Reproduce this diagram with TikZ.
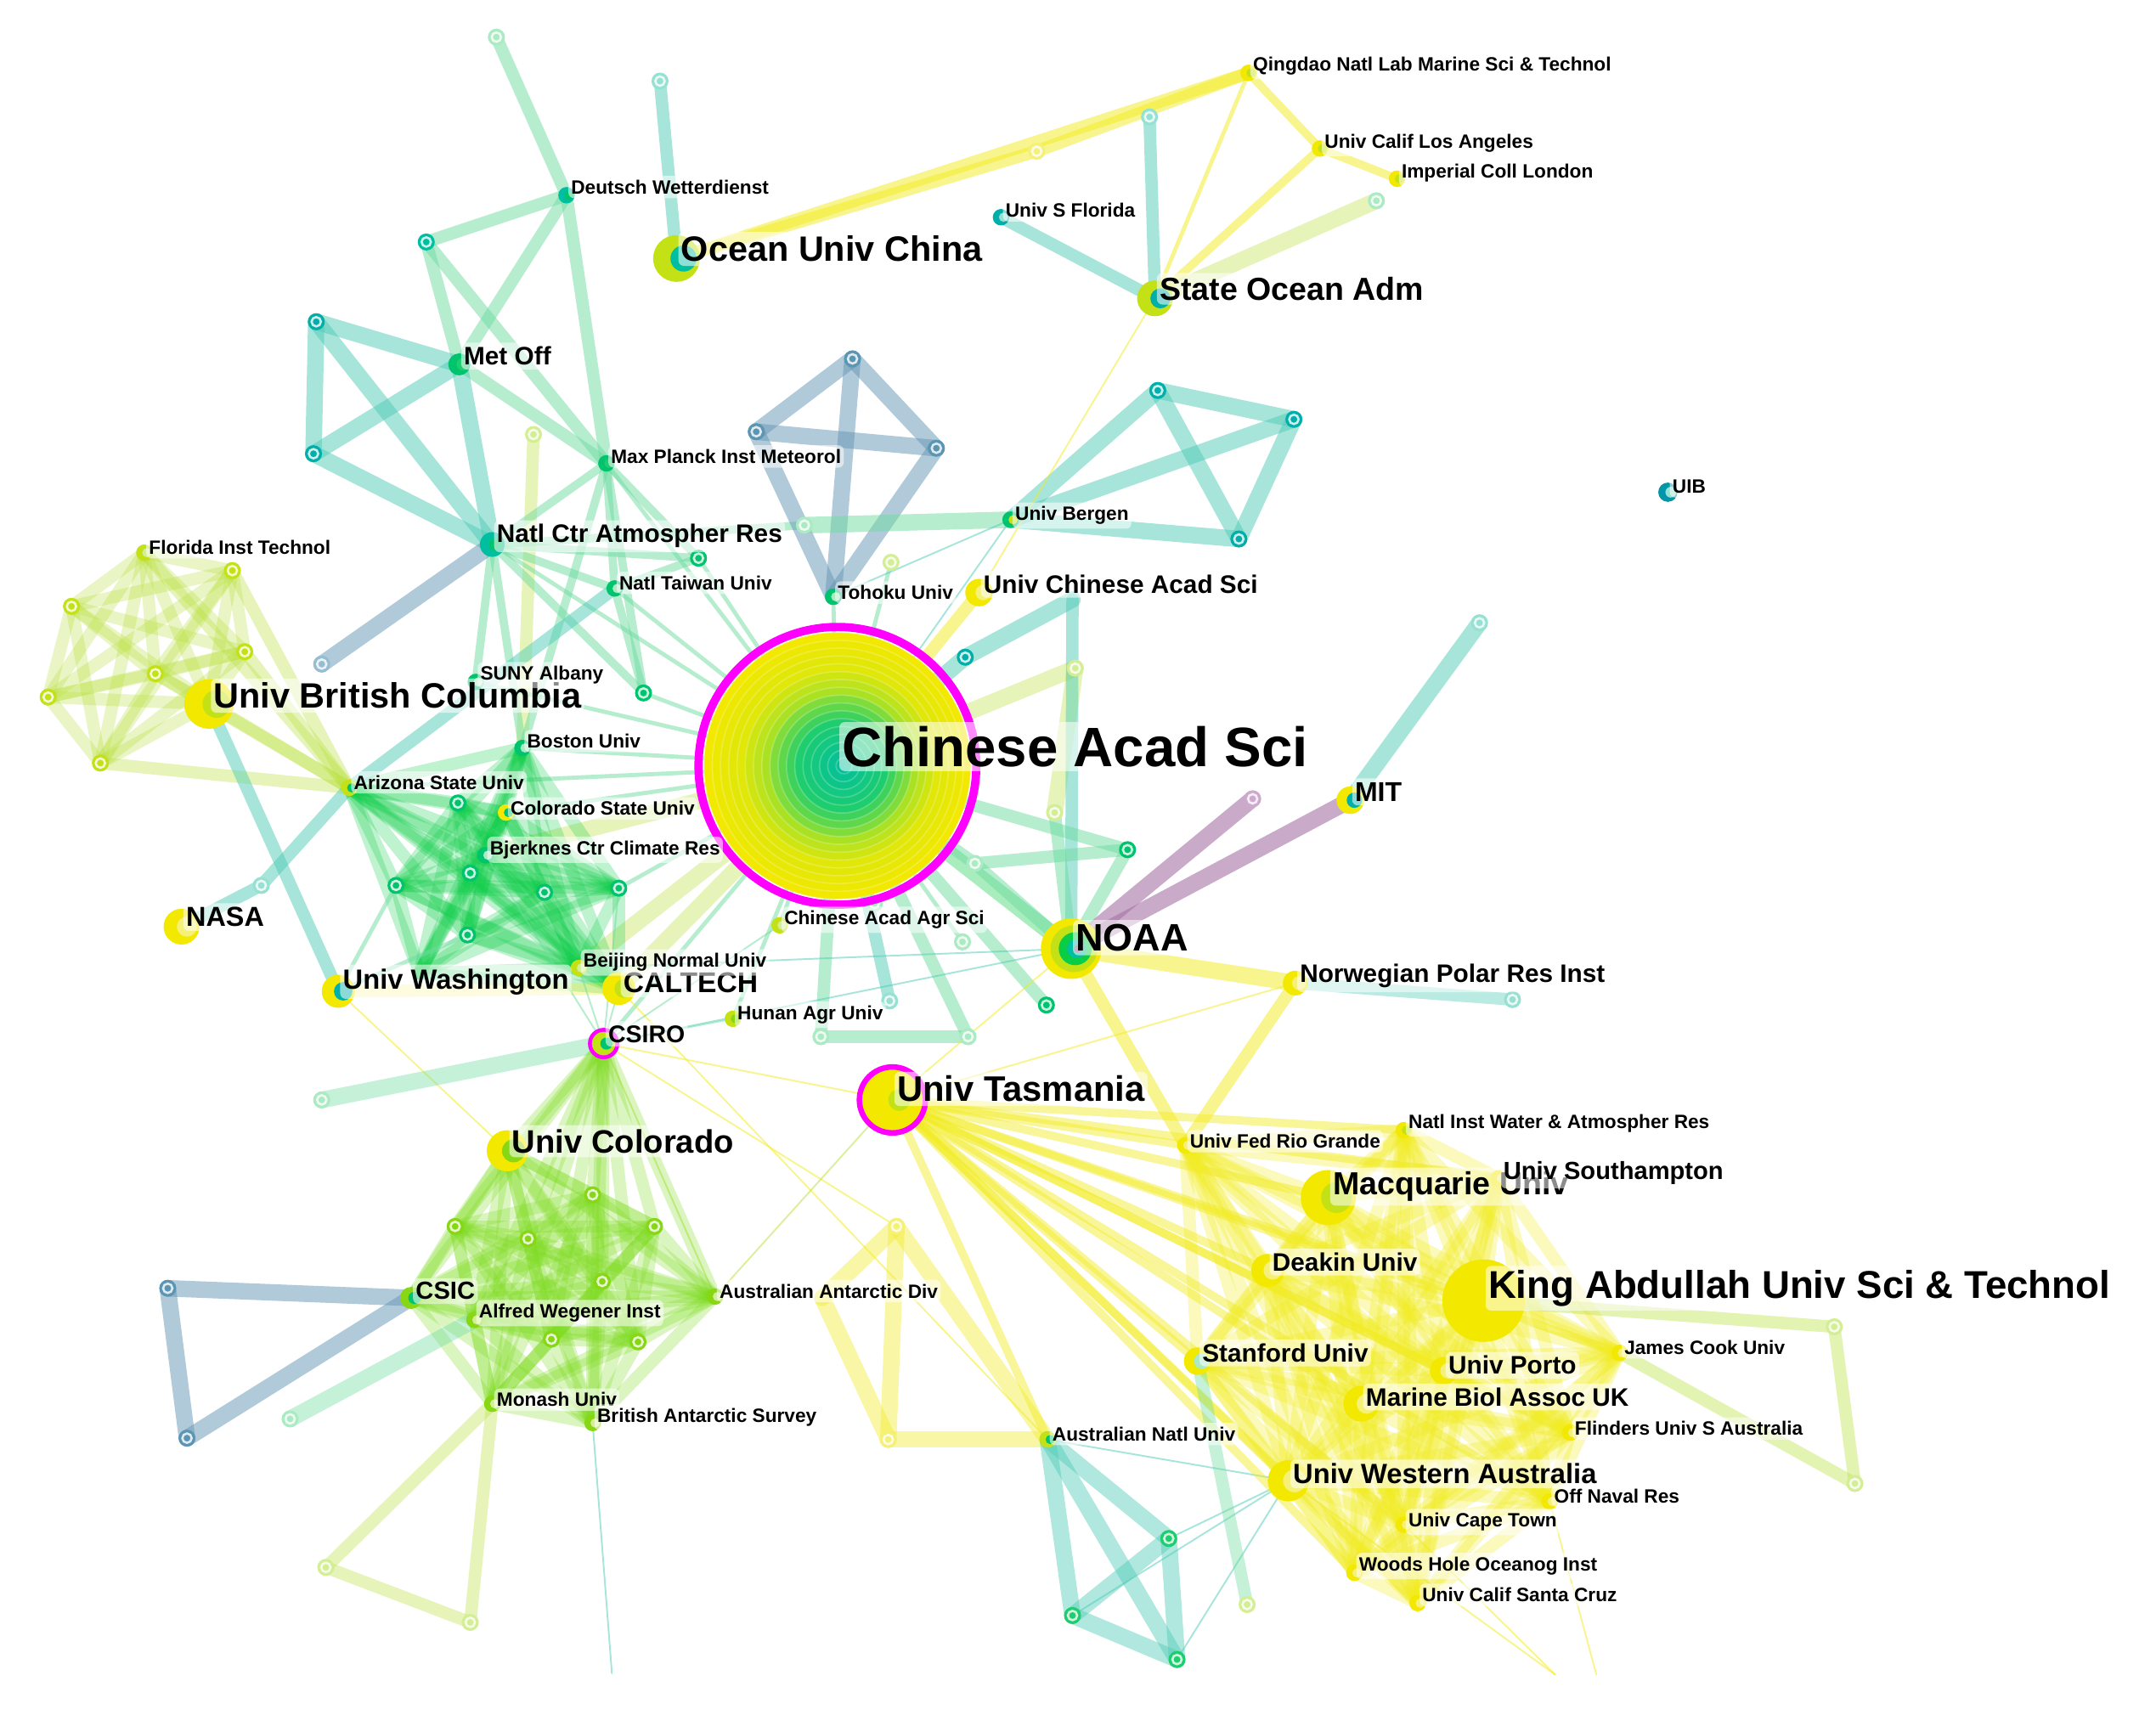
\documentclass[tikz,border=0pt]{standalone}
\usepackage{fontspec}
\setmainfont{Liberation Sans}
\usetikzlibrary{calc}
\definecolor{cteal}{RGB}{80,205,185}
\definecolor{clg}{RGB}{110,220,160}
\definecolor{cblue}{RGB}{100,150,180}
\definecolor{cyel}{RGB}{242,236,30}
\definecolor{cyg}{RGB}{185,225,60}
\definecolor{cgr}{RGB}{10,205,70}
\definecolor{clime}{RGB}{125,220,30}
\definecolor{cpur}{RGB}{165,115,165}
\definecolor{nteal}{RGB}{0,175,170}
\definecolor{ndteal}{RGB}{0,150,170}
\definecolor{ngreen}{RGB}{0,195,110}
\definecolor{nyel}{RGB}{242,232,0}
\definecolor{nyg}{RGB}{195,225,20}
\definecolor{nlime}{RGB}{135,215,20}
\definecolor{nblue}{RGB}{90,150,180}
\definecolor{pteal}{RGB}{150,225,210}
\definecolor{plg}{RGB}{170,235,195}
\definecolor{pyg}{RGB}{212,238,150}
\definecolor{pyel}{RGB}{245,240,120}
\definecolor{pblue}{RGB}{150,190,210}
\definecolor{ppur}{RGB}{205,170,205}
\definecolor{mag}{RGB}{255,0,255}
\definecolor{rgrn}{RGB}{30,205,110}
\definecolor{rteal}{RGB}{0,190,160}
\definecolor{ryg}{RGB}{160,225,40}
\newcommand\edgeset[2]{\foreach \a/\b in {#2}{\draw[#1] (\a)--(\b);}}
\newcommand\cliq[2]{\foreach \a [count=\i] in {#2}{\foreach \b [count=\j] in {#2}{\ifnum\i<\j\relax\draw[#1] (\a)--(\b);\fi}}}
\newcommand\smn[2]{\fill[#2] (#1) circle[radius=3.1pt];\draw[white,draw opacity=.8,line width=.8pt] (#1) circle[radius=1.7pt];}
\newcommand\bgn[4]{\fill[#3] (#1) circle[radius=#2*0.5pt];\fill[#4] ($(#1)+(#2*0.3,0)$) circle[radius=#2*0.28pt];}
\newcommand\mylab[4]{\node[lbl,font=\bfseries\fontsize{#3}{#3}\selectfont] (L#1) at ($(#1)+(1,-#4)$) {#2};}
\begin{document}
\begin{tikzpicture}[x=0.5pt,y=-0.5pt,
  e/.style={line cap=round,draw opacity=.5},
  w0/.style={line width=0.6pt},
  w1/.style={line width=1.5pt},
  w2/.style={line width=3pt},
  w3/.style={line width=4.5pt},
  w4/.style={line width=6pt},
  lbl/.style={anchor=west,fill=white,fill opacity=.55,text opacity=1,rounded corners=2pt,inner xsep=1pt,inner ysep=1.5pt}]
\useasboundingbox (0,0) rectangle (1568,1255);
\fill[white] (0,0) rectangle (1568,1255);
% coordinates
\coordinate (t1) at (361,27);
\coordinate (dw) at (412,142);
\coordinate (t2) at (480,59);
\coordinate (t3) at (310,176);
\coordinate (t4) at (230,234);
\coordinate (met) at (334,265);
\coordinate (t5) at (228,330);
\coordinate (t6) at (388,316);
\coordinate (mpi) at (441,337);
\coordinate (ncar) at (358,396);
\coordinate (t7) at (508,406);
\coordinate (ntu) at (447,428);
\coordinate (t8) at (468,504);
\coordinate (suny) at (346,496);
\coordinate (oc) at (492,188);
\coordinate (qd) at (908,53);
\coordinate (t9) at (754,110);
\coordinate (ucla) at (960,108);
\coordinate (icl) at (1016,130);
\coordinate (usf) at (728,158);
\coordinate (t10) at (836,85);
\coordinate (t11) at (1001,146);
\coordinate (soa) at (840,217);
\coordinate (k1) at (620,261);
\coordinate (k2) at (550,314);
\coordinate (k3) at (681,326);
\coordinate (t12) at (585,382);
\coordinate (toh) at (606,434);
\coordinate (q1) at (842,284);
\coordinate (q2) at (941,305);
\coordinate (q3) at (901,392);
\coordinate (ub) at (735,378);
\coordinate (uib) at (1213,358);
\coordinate (t13) at (648,409);
\coordinate (ucas) at (712,431);
\coordinate (t14) at (780,436);
\coordinate (t15) at (702,478);
\coordinate (t16) at (782,486);
\coordinate (t17) at (767,591);
\coordinate (cas) at (609,557);
\coordinate (mit) at (982,582);
\coordinate (t18) at (1076,453);
\coordinate (t19) at (911,581);
\coordinate (t20) at (820,618);
\coordinate (t21) at (709,628);
\coordinate (t22) at (636,657);
\coordinate (t23) at (700,685);
\coordinate (noaa) at (779,690);
\coordinate (nor) at (942,715);
\coordinate (t24) at (1100,727);
\coordinate (t25) at (647,728);
\coordinate (t26) at (761,731);
\coordinate (t27) at (597,754);
\coordinate (t28) at (704,754);
\coordinate (caas) at (567,673);
\coordinate (hunan) at (533,741);
\coordinate (fl) at (105,402);
\coordinate (f2) at (169,415);
\coordinate (f3) at (52,441);
\coordinate (f4) at (178,474);
\coordinate (f5) at (113,490);
\coordinate (f6) at (35,507);
\coordinate (f7) at (73,555);
\coordinate (ubc) at (152,512);
\coordinate (t29) at (234,483);
\coordinate (az) at (254,573);
\coordinate (bos) at (380,544);
\coordinate (csu) at (368,591);
\coordinate (g1) at (333,584);
\coordinate (bj) at (353,622);
\coordinate (g2) at (342,635);
\coordinate (g3) at (288,644);
\coordinate (g4) at (396,649);
\coordinate (g5) at (450,646);
\coordinate (g6) at (340,680);
\coordinate (g7) at (305,708);
\coordinate (t30) at (190,644);
\coordinate (nasa) at (132,674);
\coordinate (uw) at (246,721);
\coordinate (bnu) at (421,704);
\coordinate (cal) at (450,719);
\coordinate (csiro) at (439,759);
\coordinate (t31) at (234,800);
\coordinate (uco) at (369,837);
\coordinate (h1) at (431,869);
\coordinate (h2) at (331,892);
\coordinate (h3) at (384,901);
\coordinate (h4) at (476,892);
\coordinate (h5) at (438,932);
\coordinate (csic) at (299,944);
\coordinate (awi) at (345,960);
\coordinate (aad) at (520,943);
\coordinate (h6) at (401,974);
\coordinate (h7) at (464,976);
\coordinate (mon) at (358,1021);
\coordinate (bas) at (431,1035);
\coordinate (b1) at (122,937);
\coordinate (b2) at (136,1046);
\coordinate (t32) at (211,1032);
\coordinate (t33) at (237,1140);
\coordinate (t34) at (342,1180);
\coordinate (t35) at (445,1217);
\coordinate (y0) at (598,944);
\coordinate (y1) at (652,892);
\coordinate (y2) at (646,1047);
\coordinate (anu) at (762,1047);
\coordinate (tas) at (649,800);
\coordinate (niwa) at (1021,822);
\coordinate (frg) at (862,833);
\coordinate (mac) at (966,871);
\coordinate (soton) at (1090,857);
\coordinate (deakin) at (922,924);
\coordinate (kaust) at (1079,946);
\coordinate (jcu) at (1178,984);
\coordinate (stan) at (871,990);
\coordinate (porto) at (1050,997);
\coordinate (mba) at (990,1021);
\coordinate (flin) at (1142,1042);
\coordinate (uwa) at (937,1077);
\coordinate (onr) at (1127,1092);
\coordinate (uct) at (1021,1109);
\coordinate (whoi) at (985,1144);
\coordinate (ucsc) at (1031,1166);
\coordinate (r1) at (1334,965);
\coordinate (r2) at (1349,1079);
\coordinate (c1) at (850,1119);
\coordinate (c2) at (780,1175);
\coordinate (c3) at (856,1207);
\coordinate (t36) at (907,1167);
\coordinate (e1) at (1131,1218);
\coordinate (e2) at (1161,1218);
% ---------- edges ----------
\edgeset{e,clg,w3}{t1/dw,dw/t3,dw/met,dw/mpi,t3/met,t3/mpi,met/mpi}
\edgeset{e,cteal,w4}{t4/met,t4/t5,t4/ncar,t5/met,t5/ncar,met/ncar}
\edgeset{e,cteal,w3}{t2/oc}
\edgeset{e,cyg,w3,draw opacity=.35}{t6/bos}
\edgeset{e,clg,w2}{ncar/mpi,ncar/t7,ncar/ntu,mpi/t7,mpi/ntu,mpi/t8,ncar/t8,ntu/t7,ncar/suny,ncar/bos,ntu/t8,mpi/bos,ncar/t12}
\edgeset{e,cblue,w4}{ncar/t29}
\edgeset{e,cyel,w3}{oc/qd,oc/t9,t9/qd}
\edgeset{e,cyel,w2}{qd/ucla,ucla/icl,ucla/soa}
\edgeset{e,cyel,w1}{qd/soa}
\edgeset{e,cyg,w4,draw opacity=.35}{t11/soa}
\edgeset{e,cteal,w3}{t10/soa,usf/soa}
\edgeset{e,cblue,w4}{k1/k2,k1/k3,k2/k3,k1/toh,k2/toh,k3/toh}
\edgeset{e,cteal,w4}{q1/q2,q1/q3,q2/q3,q1/ub,q2/ub,q3/ub}
\edgeset{e,clg,w4}{t12/ub}
% CAS hub
\edgeset{e,clg,w1}{cas/ncar,cas/mpi,cas/ntu,cas/t7,cas/t8,cas/bos,cas/az,cas/csu,cas/suny,cas/toh,cas/t22,cas/t23,cas/csiro,cas/hunan,cas/caas,cas/g5,cas/t13}
\edgeset{e,cyg,w4,draw opacity=.35}{cas/cal,cas/bnu,cas/bj,cas/t16,t16/t17}
\edgeset{e,cyel,w3}{cas/ucas}
\edgeset{e,cgr,w4,draw opacity=.35}{cas/noaa}
\edgeset{e,cteal,w4}{t14/t15,t15/cas}
\edgeset{e,cteal,w3}{t14/noaa,cas/t25}
\edgeset{e,clg,w3}{cas/t26,cas/t27,t27/t28,t28/cas,t20/t21,t20/noaa,t21/noaa,t20/cas,t21/cas,t17/noaa}
% right
\edgeset{e,cteal,w4}{mit/t18}
\edgeset{e,cpur,w4,draw opacity=.6}{mit/noaa,t19/noaa}
\edgeset{e,cyel,w4}{noaa/nor}
\edgeset{e,cteal,w3,draw opacity=.4}{nor/t24}
\edgeset{e,cyel,w3}{noaa/frg,nor/frg}
\edgeset{e,cyel,w0}{noaa/tas,nor/tas,soa/ucas,csiro/tas,csiro/y1,cal/anu,uw/uco,uwa/e1,onr/e2,uct/e1}
\edgeset{e,cteal,w0}{noaa/bnu,csiro/noaa,bas/t35,uwa/c1,uwa/c2,uwa/c3,uwa/anu,ub/toh,ub/cas}
% left clusters
\cliq{e,cyg,w3,draw opacity=.3}{fl,f2,f3,f4,f5,f6,f7,ubc}
\edgeset{e,cyg,w3,draw opacity=.35}{az/f4,az/f5,az/f7,az/ubc,az/f2,az/fl}
\edgeset{e,cteal,w3}{ubc/uw,nasa/t30,t30/az,az/ntu}
\cliq{e,cgr,w3,draw opacity=.26}{az,bos,csu,g1,bj,g2,g3,g4,g5,g6,g7,bnu,cal}
\edgeset{e,cyel,w3,draw opacity=.3}{uw/cal}
\edgeset{e,clg,w1}{uw/g6,uw/g3}
\edgeset{e,clg,w4,draw opacity=.4}{csiro/t31}
\edgeset{e,clg,w0}{csiro/cal,csiro/bnu,csiro/hunan,csiro/caas,csiro/g5,csiro/bj}
\edgeset{e,cyg,w0}{csiro/aad,aad/tas}
\cliq{e,clime,w3,draw opacity=.28}{csiro,uco,h1,h2,h3,h4,h5,csic,awi,aad,h6,h7,mon,bas}
\edgeset{e,cblue,w4}{csic/b1,b1/b2,b2/csic}
\edgeset{e,clg,w4,draw opacity=.4}{awi/t32}
\edgeset{e,cyg,w3,draw opacity=.35}{mon/t33,t33/t34,t34/mon}
\edgeset{e,cyel,w4,draw opacity=.4}{y1/y2,y1/anu,y2/anu,y0/y1,y0/y2}
% Tasmania and yellow cluster
\edgeset{e,cyel,w2,draw opacity=.45}{tas/niwa,tas/frg,tas/mac,tas/soton,tas/deakin,tas/kaust,tas/jcu,tas/stan,tas/porto,tas/mba,tas/flin,tas/uwa,tas/onr,tas/uct,tas/whoi,tas/ucsc,tas/anu}
\cliq{e,cyel,w3,draw opacity=.3}{niwa,frg,mac,soton,deakin,kaust,jcu,stan,porto,mba,flin,uwa,onr,uct,whoi,ucsc}
\edgeset{e,cyg,w3,draw opacity=.4}{kaust/r1,r1/r2,r2/jcu}
\edgeset{e,clg,w3,draw opacity=.4}{stan/t36}
\edgeset{e,cteal,w4,draw opacity=.45}{anu/c1,anu/c2,anu/c3,c1/c2,c2/c3,c1/c3}
% ---------- small unlabeled nodes ----------
\smn{t1}{plg}\smn{t2}{pteal}\smn{t3}{rteal}\smn{t4}{nteal}\smn{t5}{nteal}
\smn{t6}{pyg}\smn{t7}{ngreen}\smn{t8}{ngreen}\smn{t9}{pyel}\smn{t10}{pteal}
\smn{t11}{plg}\smn{k1}{nblue}\smn{k2}{nblue}\smn{k3}{nblue}\smn{t12}{plg}
\smn{q1}{nteal}\smn{q2}{nteal}\smn{q3}{nteal}\smn{t13}{pyg}\smn{t15}{nteal}
\smn{t16}{pyg}\smn{t17}{pyg}\smn{t18}{pteal}\smn{t19}{ppur}\smn{t20}{ngreen}
\smn{t21}{plg}\smn{t22}{plg}\smn{t23}{plg}\smn{t24}{pteal}\smn{t25}{pteal}
\smn{t26}{ngreen}\smn{t27}{plg}\smn{t28}{plg}
\smn{f2}{nyg}\smn{f3}{nyg}\smn{f4}{nyg}\smn{f5}{nyg}\smn{f6}{nyg}\smn{f7}{nyg}
\smn{t29}{pblue}\smn{g1}{ngreen}\smn{g2}{ngreen}\smn{g3}{ngreen}\smn{g4}{ngreen}
\smn{g5}{ngreen}\smn{g6}{ngreen}\smn{t30}{pteal}\smn{t31}{plg}
\smn{h1}{nlime}\smn{h2}{nlime}\smn{h3}{nlime}\smn{h4}{nlime}\smn{h5}{nlime}
\smn{h6}{nlime}\smn{h7}{nlime}\smn{b1}{nblue}\smn{b2}{nblue}\smn{t32}{plg}
\smn{t33}{pyg}\smn{t34}{pyg}\smn{y1}{pyel}\smn{y2}{pyel}\smn{r1}{pyg}\smn{r2}{pyg}
\smn{c1}{rgrn}\smn{c2}{rgrn}\smn{c3}{rgrn}\smn{t36}{pyg}
% ---------- labeled nodes ----------
\bgn{qd}{6}{nyel}{nyg}\bgn{ucla}{6}{nyel}{nyg}\bgn{icl}{6}{nyel}{nyg}
\bgn{usf}{6}{nteal}{pteal}\bgn{dw}{6}{rteal}{ngreen}\bgn{mpi}{6}{ngreen}{rgrn}
\bgn{ub}{6}{ngreen}{nyg}\bgn{uib}{7}{ndteal}{pteal}\bgn{fl}{6}{nyg}{pyg}
\bgn{ntu}{6}{ngreen}{plg}\bgn{toh}{6}{ngreen}{plg}\bgn{suny}{6}{ngreen}{plg}
\bgn{bos}{6}{ngreen}{plg}\bgn{az}{6}{nyg}{ngreen}\bgn{csu}{6}{nyel}{ngreen}
\bgn{bj}{6}{ngreen}{plg}\bgn{caas}{6}{nyg}{pyg}\bgn{bnu}{6}{nyg}{pyg}
\bgn{hunan}{6}{nyg}{nlime}\bgn{frg}{6}{nyel}{pyel}\bgn{niwa}{6}{nyel}{nyg}
\bgn{soton}{6}{nyel}{pyel}\bgn{jcu}{6}{nyel}{pyel}\bgn{flin}{6}{nyel}{pyel}
\bgn{anu}{6}{nyg}{ngreen}\bgn{onr}{6}{nyel}{pyel}\bgn{uct}{6}{nyel}{pyel}
\bgn{whoi}{6}{nyel}{pyel}\bgn{ucsc}{6}{nyel}{pyel}\bgn{awi}{6}{nlime}{pyg}
\bgn{mon}{6}{nlime}{pyg}\bgn{bas}{6}{nlime}{pyg}\bgn{aad}{6}{nlime}{pyg}
\bgn{oc}{17}{nyg}{rteal}\bgn{soa}{13}{nyg}{nteal}\bgn{met}{8}{ngreen}{rgrn}
\bgn{ncar}{9}{rteal}{ngreen}\bgn{ubc}{18}{nyel}{nyg}\bgn{ucas}{10}{nyel}{pyel}
\bgn{mit}{10}{nyel}{nteal}\bgn{nasa}{13}{nyel}{pyel}\bgn{uw}{12}{nyel}{nteal}
\bgn{cal}{12}{nyel}{nyg}\bgn{nor}{9}{nyel}{pyel}\bgn{uco}{15}{nyel}{nlime}
\bgn{mac}{20}{nyel}{nyg}\bgn{deakin}{12}{nyel}{pyel}\bgn{kaust}{30}{nyel}{nyel}
\bgn{stan}{10}{nyel}{plg}\bgn{porto}{10}{nyel}{pyel}\bgn{mba}{13}{nyel}{pyel}
\bgn{uwa}{15}{nyel}{pyel}\bgn{csic}{8}{nlime}{ngreen}
% NOAA rings
\fill[nyel] (noaa) circle[radius=11pt];
\fill[nyg] ($(noaa)+(2,0)$) circle[radius=8.5pt];
\fill[cgr] ($(noaa)+(3,0)$) circle[radius=6pt];
\fill[rteal] ($(noaa)+(4,0)$) circle[radius=3.5pt];
\fill[cpur!80!black] ($(noaa)+(5,0)$) circle[radius=1.5pt];
% CSIRO
\fill[nyg] (csiro) circle[radius=4.5pt];
\fill[ngreen] ($(csiro)+(2,0)$) circle[radius=2.2pt];
\draw[mag,line width=1.4pt] (csiro) circle[radius=5pt];
% Tasmania
\fill[nyel] (tas) circle[radius=11.5pt];
\fill[nyg] ($(tas)+(5,0)$) circle[radius=4pt];
\draw[mag,line width=2pt] (tas) circle[radius=12pt];
% Chinese Acad Sci big node (tree rings)
\foreach \i in {0,...,16}{
  \pgfmathsetmacro\rr{48.5-\i*2.85}
  \pgfmathtruncatemacro\pa{\i*6}
  \pgfmathtruncatemacro\pb{(\i-3)*22}
  \pgfmathtruncatemacro\pc{(\i-7)*25}
  \pgfmathtruncatemacro\pd{(\i-11)*18}
  \colorlet{ringc}{ryg!\pa!nyel}
  \ifnum\i>3\relax\colorlet{ringc}{ryg!\pb!nyel}\fi
  \ifnum\i>7\relax\colorlet{ringc}{rgrn!\pc!ryg}\fi
  \ifnum\i>11\relax\colorlet{ringc}{rteal!\pd!rgrn}\fi
  \fill[ringc] ($(cas)+(\i*0.3,0)$) circle[radius=\rr pt];
  \draw[white,draw opacity=.22,line width=.5pt] ($(cas)+(\i*0.3,0)$) circle[radius=\rr pt];
}
\draw[mag,line width=3pt] (cas) circle[radius=50.5pt];
% ---------- labels ----------
\mylab{qd}{Qingdao Natl Lab Marine Sci \& Technol}{7}{5}
\mylab{ucla}{Univ Calif Los Angeles}{7}{4}
\mylab{icl}{Imperial Coll London}{7}{4}
\mylab{usf}{Univ S Florida}{7}{5}
\mylab{dw}{Deutsch Wetterdienst}{7}{6}
\mylab{oc}{Ocean Univ China}{12.8}{7}
\mylab{soa}{State Ocean Adm}{11.6}{7}
\mylab{met}{Met Off}{9.2}{6}
\mylab{mpi}{Max Planck Inst Meteorol}{7}{5}
\mylab{ncar}{Natl Ctr Atmospher Res}{9.2}{6}
\mylab{ub}{Univ Bergen}{7}{3}
\mylab{uib}{UIB}{7}{4}
\mylab{fl}{Florida Inst Technol}{7}{4}
\mylab{ntu}{Natl Taiwan Univ}{7}{4}
\mylab{toh}{Tohoku Univ}{7}{3}
\mylab{ucas}{Univ Chinese Acad Sci}{9.2}{6}
\mylab{ubc}{Univ British Columbia}{12.8}{6}
\mylab{suny}{SUNY Albany}{7}{5}
\mylab{cas}{Chinese Acad Sci}{20.2}{14}
\mylab{bos}{Boston Univ}{7}{5}
\mylab{az}{Arizona State Univ}{7}{4}
\mylab{csu}{Colorado State Univ}{7}{3}
\mylab{mit}{MIT}{9.9}{6}
\mylab{bj}{Bjerknes Ctr Climate Res}{7}{4}
\mylab{nasa}{NASA}{10}{7}
\mylab{caas}{Chinese Acad Agr Sci}{7}{4}
\mylab{noaa}{NOAA}{13.9}{8}
\mylab{uw}{Univ Washington}{10.1}{7}
\mylab{cal}{CALTECH}{10.4}{4}
\mylab{bnu}{Beijing Normal Univ}{7}{4}
\mylab{nor}{Norwegian Polar Res Inst}{9.2}{5}
\mylab{hunan}{Hunan Agr Univ}{7}{3}
\mylab{csiro}{CSIRO}{8.8}{7}
\mylab{tas}{Univ Tasmania}{12.9}{8}
\mylab{uco}{Univ Colorado}{11.8}{7}
\mylab{frg}{Univ Fed Rio Grande}{7}{3}
\mylab{niwa}{Natl Inst Water \& Atmospher Res}{7}{5}
\mylab{mac}{Macquarie Univ}{11.6}{8}
\mylab{soton}{Univ Southampton}{9}{4}
\mylab{deakin}{Deakin Univ}{9.2}{6}
\mylab{kaust}{King Abdullah Univ Sci \& Technol}{14.1}{9}
\mylab{csic}{CSIC}{9}{5}
\mylab{aad}{Australian Antarctic Div}{7}{4}
\mylab{awi}{Alfred Wegener Inst}{7}{5}
\mylab{jcu}{James Cook Univ}{7}{4}
\mylab{stan}{Stanford Univ}{9.2}{6}
\mylab{porto}{Univ Porto}{9.2}{4}
\mylab{mba}{Marine Biol Assoc UK}{9.2}{5}
\mylab{mon}{Monash Univ}{7}{3}
\mylab{bas}{British Antarctic Survey}{7}{4}
\mylab{flin}{Flinders Univ S Australia}{7}{3}
\mylab{anu}{Australian Natl Univ}{7}{4}
\mylab{uwa}{Univ Western Australia}{10.1}{5}
\mylab{onr}{Off Naval Res}{7}{4}
\mylab{uct}{Univ Cape Town}{7}{2}
\mylab{whoi}{Woods Hole Oceanog Inst}{7}{5}
\mylab{ucsc}{Univ Calif Santa Cruz}{7}{6}
\end{tikzpicture}
\end{document}
